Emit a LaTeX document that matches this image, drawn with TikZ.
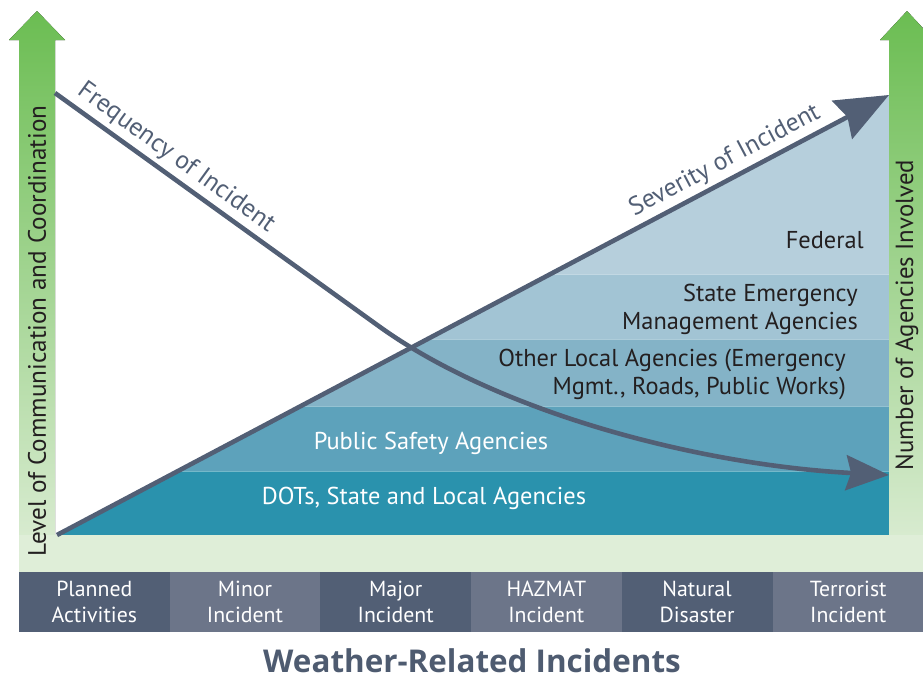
\documentclass[tikz,border=0pt]{standalone}
\usepackage{fontspec}
\setmainfont{PT Sans}
\newfontfamily\titlefont{Open Sans}
\usetikzlibrary{arrows.meta}
\definecolor{slate}{HTML}{525F75}
\definecolor{slatelt}{HTML}{6C7589}
\definecolor{titlec}{HTML}{4E5B70}
\definecolor{gtop}{HTML}{6BBD52}
\definecolor{gbot}{HTML}{DFEED8}
\definecolor{fedc}{HTML}{B6CFDC}
\definecolor{statec}{HTML}{A2C4D4}
\definecolor{otherc}{HTML}{84B3C7}
\definecolor{pubc}{HTML}{5DA2BB}
\definecolor{dotsc}{HTML}{2A92AD}
\definecolor{dktext}{HTML}{231F20}
\tikzset{
  axisline/.style={draw=slate, line width=4.6pt},
  sep/.style={draw=white, opacity=0.35, line width=0.8pt},
  cell/.style={minimum width=151pt, minimum height=60pt, inner sep=0pt, align=center, text=white, font=\fontsize{21.8}{26}\selectfont},
  darktxt/.style={inner sep=0pt, text=dktext, font=\fontsize{24.4}{28}\selectfont},
  whitetxt/.style={inner sep=0pt, text=white, font=\fontsize{24.4}{28}\selectfont},
  axislabel/.style={inner sep=0pt, text=dktext, rotate=90},
  curvelabel/.style={inner sep=0pt, text=slate, font=\fontsize{25.6}{28}\selectfont},
}
\begin{document}
\begin{tikzpicture}[x=1pt,y=-1pt]
\useasboundingbox (0,0) rectangle (923,680);
% green arrows
\fill[top color=gtop, bottom color=gbot] (19,572) -- (19,40) -- (9,40) -- (37,11) -- (65,40) -- (55,40) -- (55,572) -- cycle;
\fill[top color=gtop, bottom color=gbot] (889,572) -- (889,40) -- (880,40) -- (907,11) -- (934,40) -- (925,40) -- (925,572) -- cycle;
\fill[gbot] (19,535) rectangle (923,572);
% bands
\begin{scope}
\clip (57,535) -- (889,95) -- (889,535) -- cycle;
\fill[fedc] (0,90) rectangle (889,274);
\fill[statec] (0,274) rectangle (889,339);
\fill[otherc] (0,339) rectangle (889,406);
\fill[pubc] (0,406) rectangle (889,471);
\fill[dotsc] (0,471) rectangle (889,535);
\draw[sep] (0,274) -- (889,274);
\draw[sep] (0,339) -- (889,339);
\draw[sep] (0,406) -- (889,406);
\draw[sep] (0,471) -- (889,471);
\end{scope}
% band labels
\node[darktxt, anchor=east] (fed) at (864,240) {Federal};
\node[darktxt, anchor=east, align=right] (sta) at (858,309) {State Emergency\\Management Agencies};
\node[darktxt, anchor=east, align=right] (oth) at (846,374) {Other Local Agencies (Emergency\\Mgmt., Roads, Public Works)};
\node[whitetxt] (pub) at (431,443) {Public Safety Agencies};
\node[whitetxt] (dot) at (424,498) {DOTs, State and Local Agencies};
% arrows
\coordinate (sevS) at (57,535);
\coordinate (sevE) at (889,95);
\coordinate (frqS) at (55,93);
\coordinate (frqE) at (889,475);
\draw[axisline, -{Stealth[length=53pt, width=43pt, inset=6pt]}] (sevS) -- (sevE);
\draw[axisline, -{Stealth[length=43pt, width=35pt, inset=5pt]}] (frqS) -- (380,327) .. controls (500,413) and (700,465) .. (frqE);
% curve labels
\node[curvelabel, rotate=-36] (frql) at (176,158) {Frequency of Incident};
\node[curvelabel, rotate=27.9] (sevl) at (725,161) {Severity of Incident};
% axis labels
\node[axislabel, font=\fontsize{25.2}{28}\selectfont] (lvl) at (37,331) {Level of Communication and Coordination};
\node[axislabel, font=\fontsize{24.8}{28}\selectfont] (num) at (907,315) {Number of Agencies Involved};
% bottom cells
\node[cell, fill=slate] (c1) at (94.3,602) {Planned\\Activities};
\node[cell, fill=slatelt] (c2) at (245,602) {Minor\\Incident};
\node[cell, fill=slate] (c3) at (395.7,602) {Major\\Incident};
\node[cell, fill=slatelt] (c4) at (546.3,602) {HAZMAT\\Incident};
\node[cell, fill=slate] (c5) at (697,602) {Natural\\Disaster};
\node[cell, fill=slatelt] (c6) at (848.2,602) {Terrorist\\Incident};
% title
\node[inner sep=0pt, text=titlec, font=\titlefont\bfseries\fontsize{31.4}{36}\selectfont] (ttl) at (472,661) {Weather-Related Incidents};
\end{tikzpicture}
\end{document}
